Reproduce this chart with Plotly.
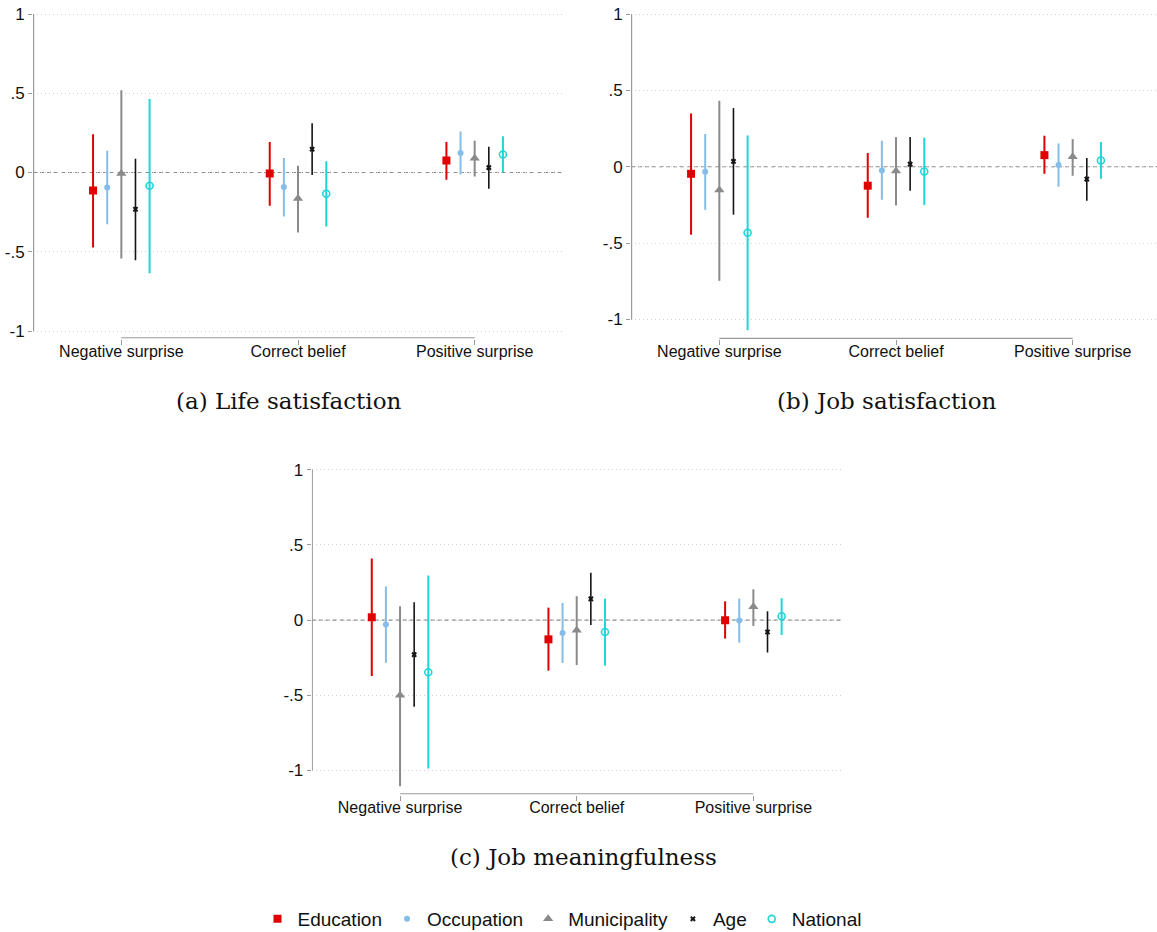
import plotly.graph_objects as go

# ---------------- data ----------------
categories = ["Negative surprise", "Correct belief", "Positive surprise"]
series = ["Education", "Occupation", "Municipality", "Age", "National"]
ytick_vals = [-1, -0.5, 0, 0.5, 1]
ytick_text = ["-1", "-.5", "0", ".5", "1"]
captions = ["(a) Life satisfaction", "(b) Job satisfaction", "(c) Job meaningfulness"]

# rows = series (Education, Occupation, Municipality, Age, National)
# cols = categories (Negative surprise, Correct belief, Positive surprise)
life_est = [
    [-0.114, -0.006, 0.075],
    [-0.095, -0.092, 0.123],
    [-0.006, -0.164, 0.090],
    [-0.232, 0.147, 0.031],
    [-0.084, -0.134, 0.114],
]
life_lo = [
    [-0.473, -0.209, -0.045],
    [-0.327, -0.277, -0.012],
    [-0.542, -0.379, -0.026],
    [-0.553, -0.016, -0.102],
    [-0.635, -0.341, 0.000],
]
life_hi = [
    [0.241, 0.193, 0.193],
    [0.137, 0.092, 0.258],
    [0.519, 0.043, 0.200],
    [0.086, 0.310, 0.162],
    [0.464, 0.071, 0.228],
]

job_est = [
    [-0.046, -0.124, 0.076],
    [-0.033, -0.024, 0.011],
    [-0.153, -0.028, 0.066],
    [0.035, 0.017, -0.081],
    [-0.432, -0.031, 0.041],
]
job_lo = [
    [-0.445, -0.334, -0.046],
    [-0.282, -0.216, -0.131],
    [-0.747, -0.253, -0.059],
    [-0.314, -0.157, -0.223],
    [-1.070, -0.251, -0.079],
]
job_hi = [
    [0.349, 0.090, 0.203],
    [0.214, 0.170, 0.153],
    [0.432, 0.194, 0.181],
    [0.384, 0.194, 0.057],
    [0.205, 0.190, 0.162],
]

mean_est = [
    [0.019, -0.128, -0.001],
    [-0.030, -0.085, -0.003],
    [-0.500, -0.068, 0.088],
    [-0.230, 0.141, -0.079],
    [-0.347, -0.079, 0.026],
]
mean_lo = [
    [-0.372, -0.336, -0.123],
    [-0.283, -0.285, -0.150],
    [-1.104, -0.299, -0.039],
    [-0.576, -0.032, -0.216],
    [-0.987, -0.303, -0.099],
]
mean_hi = [
    [0.410, 0.083, 0.125],
    [0.223, 0.114, 0.143],
    [0.092, 0.159, 0.205],
    [0.119, 0.314, 0.059],
    [0.296, 0.143, 0.145],
]

# ---------------- styles ----------------
colors = ["#e00000", "#86bde8", "#8a8a8a", "#151515", "#1fd6d6"]
symbols = ["square", "circle", "triangle-up", "x", "circle-open"]
msizes = [8, 6, 9, 5, 7]
lwidths = [2, 2, 2, 1.6, 2]
offsets = [-0.16, -0.08, 0.0, 0.08, 0.16]

W, H = 1157, 932
FONT = "Liberation Sans, Arial, sans-serif"
AX = "#9a9a9a"

# panel geometry in pixels
panels = [
    dict(est=life_est, lo=life_lo, hi=life_hi, xl=33, xr=563, yt=6, yb=338.5, y1=14, ym1=331),
    dict(est=job_est, lo=job_lo, hi=job_hi, xl=631, xr=1157, yt=6, yb=339, y1=14, ym1=319.5),
    dict(est=mean_est, lo=mean_lo, hi=mean_hi, xl=311.7, xr=841.7, yt=462, yb=794.5, y1=469.7, ym1=770.5),
]
PX_PER_CAT = 176.67

fig = go.Figure()
layout_axes = {}
shapes = []

for p_i, p in enumerate(panels):
    sfx = "" if p_i == 0 else str(p_i + 1)
    xa, ya = "x" + sfx, "y" + sfx
    for s_i, name in enumerate(series):
        xs = [c + 1 + offsets[s_i] for c in range(len(categories))]
        est = p["est"][s_i]
        lo = p["lo"][s_i]
        hi = p["hi"][s_i]
        mk = dict(symbol=symbols[s_i], size=msizes[s_i], color=colors[s_i])
        if symbols[s_i] == "circle-open":
            mk["line"] = dict(width=1.6, color=colors[s_i])
        else:
            mk["line"] = dict(width=0)
        fig.add_trace(go.Scatter(
            x=xs, y=est, mode="markers", name=name, marker=mk,
            xaxis=xa, yaxis=ya, showlegend=(p_i == 0), legendgroup=name,
            error_y=dict(type="data", symmetric=False,
                         array=[h - e for h, e in zip(hi, est)],
                         arrayminus=[e - l for e, l in zip(est, lo)],
                         width=0, thickness=lwidths[s_i], color=colors[s_i]),
            hoverinfo="skip",
        ))

    ppu = (p["ym1"] - p["y1"]) / 2.0
    y_top = 1 + (p["y1"] - p["yt"]) / ppu
    y_bot = -1 - (p["yb"] - p["ym1"]) / ppu
    x_lo = 0.5
    x_hi = 0.5 + (p["xr"] - p["xl"]) / PX_PER_CAT

    layout_axes["xaxis" + sfx] = dict(
        domain=[p["xl"] / W, min(p["xr"] / W, 1.0)], anchor=ya, range=[x_lo, x_hi],
        tickvals=[1, 2, 3], ticktext=categories, ticks="outside", ticklen=5,
        tickcolor=AX, tickwidth=1, showline=False, showgrid=False, zeroline=False,
        ticklabelstandoff=-7,
        tickfont=dict(family=FONT, size=16, color="#111"),
    )
    layout_axes["yaxis" + sfx] = dict(
        domain=[1 - p["yb"] / H, 1 - p["yt"] / H], anchor=xa, range=[y_bot, y_top],
        tickvals=ytick_vals, ticktext=ytick_text, ticks="outside", ticklen=4,
        tickcolor=AX, tickwidth=1, showline=False, showgrid=True,
        gridcolor="#cfcfcf", griddash="1px,3px", gridwidth=1, zeroline=False,
        tickfont=dict(family=FONT, size=17, color="#111"),
    )
    inset_x = 0.6 / PX_PER_CAT
    inset_y = 0.6 / ppu
    shapes.append(dict(type="line", xref=xa, yref=ya, x0=x_lo + inset_x, x1=x_lo + inset_x,
                       y0=-1, y1=1, line=dict(color=AX, width=1.2), layer="above"))
    shapes.append(dict(type="line", xref=xa, yref=ya, x0=1, x1=3,
                       y0=y_bot + inset_y, y1=y_bot + inset_y,
                       line=dict(color=AX, width=1.2), layer="above"))
    shapes.append(dict(type="line", xref=xa, yref=ya, x0=x_lo, x1=x_hi, y0=0, y1=0,
                       line=dict(color="#8c8c8c", width=1.2, dash="4px,3px"), layer="below"))

cap_pos = [(289, 401), (887, 401), (583, 857)]
annotations = []
for txt, (cx, cy) in zip(captions, cap_pos):
    annotations.append(dict(text=txt, x=cx / W, y=1 - cy / H, xref="paper", yref="paper",
                            xanchor="center", yanchor="middle", showarrow=False,
                            font=dict(family="DejaVu Serif, serif", size=23, color="#111")))

fig.update_layout(
    width=W, height=H, autosize=False,
    margin=dict(l=0, r=0, t=0, b=0, autoexpand=False),
    paper_bgcolor="white", plot_bgcolor="white",
    shapes=shapes, annotations=annotations,
    legend=dict(orientation="h", x=562 / W, xanchor="center", y=1 - 919 / H,
                yanchor="middle", font=dict(family=FONT, size=19, color="#111"),
                bgcolor="rgba(0,0,0,0)"),
    **layout_axes,
)

fig.write_html("out.html", config={"displayModeBar": False},
               post_script="document.body.style.margin='0px';")
